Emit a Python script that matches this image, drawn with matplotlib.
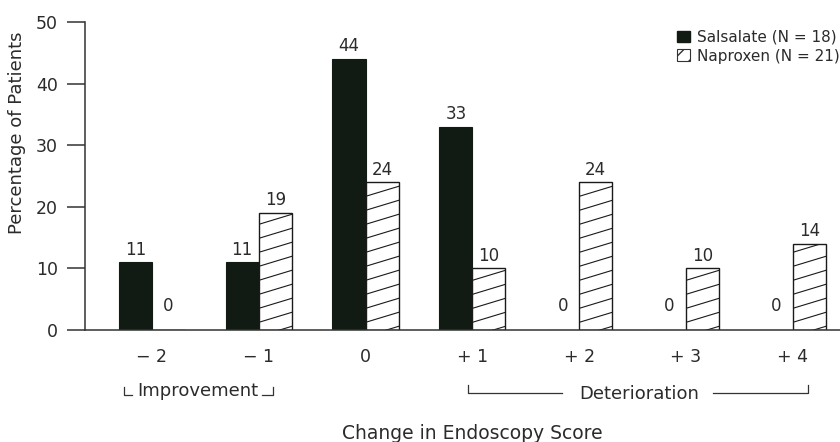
import numpy as np
import matplotlib
matplotlib.use("Agg")
import matplotlib.pyplot as plt
from matplotlib.patches import Patch

# data
scores = ["\u2212 2", "\u2212 1", "0", "+ 1", "+ 2", "+ 3", "+ 4"]
salsalate = [11, 11, 44, 33, 0, 0, 0]
naproxen = [0, 19, 24, 10, 24, 10, 14]
series_names = ["Salsalate (N = 18)", "Naproxen (N = 21)"]

TEXT = "#2b2b2b"
DARK = "#121a14"

plt.rcParams["font.family"] = ["DejaVu Sans"]
plt.rcParams["text.color"] = TEXT
plt.rcParams["axes.labelcolor"] = TEXT
plt.rcParams["xtick.color"] = TEXT
plt.rcParams["ytick.color"] = TEXT

fig = plt.figure(figsize=(8.4, 4.42), dpi=100)
ax = fig.add_axes([85 / 840, 1 - 330 / 442, 755 / 840, 308 / 442])

x = np.arange(len(scores))
width = 0.31

bars_s = ax.bar(x - width / 2, salsalate, width, color=DARK, edgecolor=DARK, linewidth=0.8)
bars_n = ax.bar(x + width / 2, naproxen, width, color="white", edgecolor="#1a1a1a", linewidth=1.0)

ax.set_xlim(-0.627, 6.442)
ax.set_ylim(0, 50)

# shallow diagonal hatch, clipped to each naproxen bar
p0 = ax.transData.transform((0, 0))
p1 = ax.transData.transform((1, 1))
px_x = p1[0] - p0[0]
px_y = p1[1] - p0[1]
spacing = 14 / px_y
for rect in bars_n:
    h = rect.get_height()
    if h <= 0:
        continue
    x0 = rect.get_x()
    w = rect.get_width()
    rise = 10 / 33 * w * px_x / px_y
    for c in np.arange(-rise + 0.6, h, spacing):
        ln, = ax.plot([x0, x0 + w], [c, c + rise], color="#1a1a1a", lw=0.8)
        ln.set_clip_path(rect)

# value labels
for bars in (bars_s, bars_n):
    for rect in bars:
        h = rect.get_height()
        off = 2.5 if h > 0 else 11
        ax.annotate(f"{h:g}", (rect.get_x() + rect.get_width() / 2, h),
                    xytext=(0, off), textcoords="offset points",
                    ha="center", va="bottom", fontsize=12, color=TEXT)

for side in ("top", "right"):
    ax.spines[side].set_visible(False)
ax.spines["left"].set_linewidth(1.1)
ax.spines["bottom"].set_linewidth(1.1)
ax.spines["left"].set_color("#333333")
ax.spines["bottom"].set_color("#333333")

ax.set_yticks([0, 10, 20, 30, 40, 50])
ax.tick_params(axis="y", length=13, width=1.1, pad=6.5, labelsize=12.5, color="#333333")
ax.set_xticks(x)
ax.set_xticklabels(scores)
ax.tick_params(axis="x", length=0, pad=13, labelsize=12.5)

ax.set_ylabel("Percentage of Patients", fontsize=13)
ax.yaxis.set_label_coords(-0.078, 0.64)
ax.set_xlabel("Change in Endoscopy Score", fontsize=13.5)
ax.xaxis.set_label_coords(0.513, -0.305)

# improvement / deterioration brackets under the axis
tr = ax.get_xaxis_transform()
bk = dict(color="#333333", lw=0.9, transform=tr, clip_on=False)
ax.plot([-0.262, -0.262, -0.187], [-0.185, -0.211, -0.211], **bk)
ax.plot([1.03, 1.133, 1.133], [-0.211, -0.211, -0.185], **bk)
ax.text(0.426, -0.198, "Improvement", transform=tr, ha="center", va="center", fontsize=13)
ax.plot([2.959, 2.959, 3.839], [-0.179, -0.205, -0.205], **bk)
ax.plot([5.253, 6.142, 6.142], [-0.205, -0.205, -0.179], **bk)
ax.text(4.56, -0.209, "Deterioration", transform=tr, ha="center", va="center", fontsize=13)

handles = [
    Patch(facecolor=DARK, edgecolor=DARK),
    Patch(facecolor="white", edgecolor="#333333", hatch="//", linewidth=0.8),
]
ax.legend(handles, series_names, loc="upper right", bbox_to_anchor=(1.0, 0.975),
          frameon=False, fontsize=11, borderpad=0, borderaxespad=0,
          handlelength=0.8, handleheight=0.8, handletextpad=0.5, labelspacing=0.25)

fig.savefig("out.png", dpi=100)
